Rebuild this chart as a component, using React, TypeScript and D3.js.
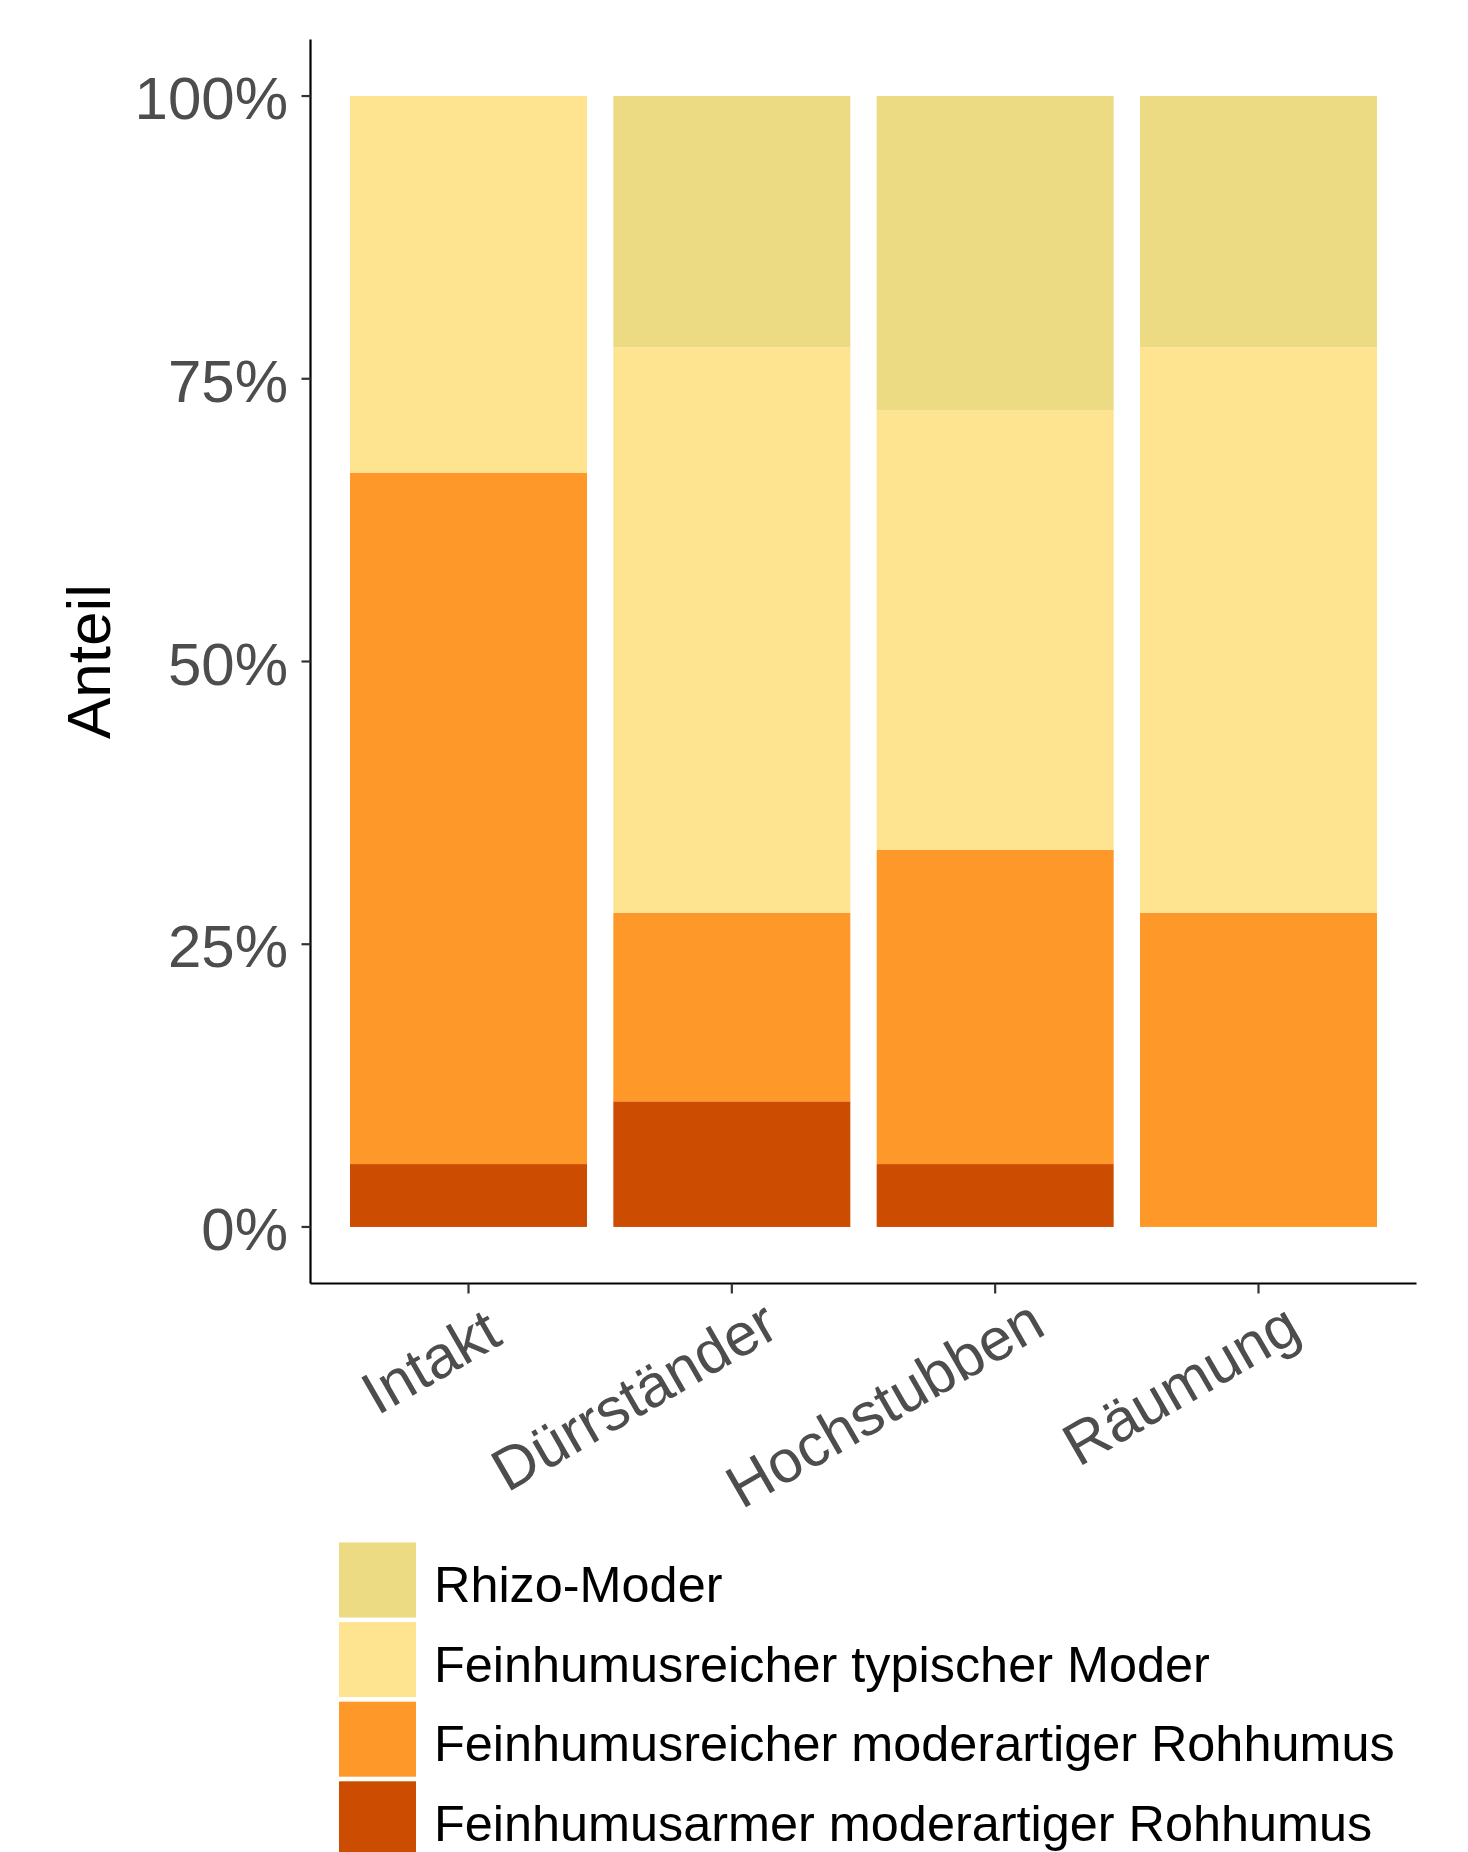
import React, { useEffect, useRef } from "react";
import * as d3 from "d3";

const categories = ["Intakt", "Dürrständer", "Hochstubben", "Räumung"];
const seriesKeys = [
  "Feinhumusarmer moderartiger Rohhumus",
  "Feinhumusreicher moderartiger Rohhumus",
  "Feinhumusreicher typischer Moder",
  "Rhizo-Moder",
];
// shares per category, bottom to top (same order as seriesKeys)
const armerRohhumus = [0.0556, 0.1111, 0.0556, 0.0];
const reicherRohhumus = [0.6111, 0.1667, 0.2778, 0.2778];
const typischerModer = [0.3333, 0.5, 0.3889, 0.5];
const rhizoModer = [0.0, 0.2222, 0.2778, 0.2222];
const seriesColors = ["#CC4C02", "#FE9929", "#FEE391", "#ECDB83"];
const legendOrder = [3, 2, 1, 0];
const yTicks = [0, 0.25, 0.5, 0.75, 1];
const yTickLabels = ["0%", "25%", "50%", "75%", "100%"];
const yTitle = "Anteil";

export default function App() {
  const ref = useRef<SVGSVGElement | null>(null);

  useEffect(() => {
    const svg = d3.select(ref.current);
    svg.selectAll("*").remove();
    const font = "'Liberation Sans', Arial, sans-serif";

    const rows = categories.map((c, i) => ({
      cat: c,
      [seriesKeys[0]]: armerRohhumus[i],
      [seriesKeys[1]]: reicherRohhumus[i],
      [seriesKeys[2]]: typischerModer[i],
      [seriesKeys[3]]: rhizoModer[i],
    }));
    const stacked = d3.stack<any>().keys(seriesKeys)(rows);

    const x = d3
      .scaleBand<string>()
      .domain(categories)
      .range([310.5, 1416.5])
      .paddingInner(0.1)
      .paddingOuter(0.15);
    const y = d3.scaleLinear().domain([-0.05, 1.05]).range([1283.5, 39.5]);
    const color = d3.scaleOrdinal<string, string>().domain(seriesKeys).range(seriesColors);

    // bars
    const g = svg.append("g");
    stacked.forEach((layer) => {
      g.append("g")
        .attr("fill", color(layer.key))
        .selectAll("rect")
        .data(layer)
        .join("rect")
        .attr("x", (d: any) => x(d.data.cat)!)
        .attr("width", x.bandwidth())
        .attr("y", (d: any) => y(d[1]))
        .attr("height", (d: any) => Math.max(0, y(d[0]) - y(d[1])));
    });

    // y axis
    const [xl] = x.range();
    svg
      .append("line")
      .attr("x1", xl)
      .attr("x2", xl)
      .attr("y1", y.range()[1])
      .attr("y2", y.range()[0])
      .attr("stroke", "#000")
      .attr("stroke-width", 2.2);
    yTicks.forEach((t, i) => {
      svg
        .append("line")
        .attr("x1", xl - 9)
        .attr("x2", xl)
        .attr("y1", y(t))
        .attr("y2", y(t))
        .attr("stroke", "#333")
        .attr("stroke-width", 2.2);
      svg
        .append("text")
        .attr("x", 288)
        .attr("y", y(t) + 23)
        .attr("text-anchor", "end")
        .attr("font-family", font)
        .attr("font-size", 60)
        .attr("fill", "#4D4D4D")
        .text(yTickLabels[i]);
    });

    // x axis
    svg
      .append("line")
      .attr("x1", x.range()[0])
      .attr("x2", x.range()[1])
      .attr("y1", y.range()[0])
      .attr("y2", y.range()[0])
      .attr("stroke", "#000")
      .attr("stroke-width", 2.2);
    categories.forEach((c) => {
      const cx = x(c)! + x.bandwidth() / 2;
      svg
        .append("line")
        .attr("x1", cx)
        .attr("x2", cx)
        .attr("y1", y.range()[0])
        .attr("y2", y.range()[0] + 10)
        .attr("stroke", "#333")
        .attr("stroke-width", 2.2);
      const gt = svg
        .append("g")
        .attr("transform", `translate(${cx},1308) rotate(-30)`);
      const t = gt
        .append("text")
        .attr("text-anchor", "end")
        .attr("font-family", font)
        .attr("font-size", 60)
        .attr("fill", "#4D4D4D")
        .text(c);
      const L = (t.node() as SVGTextElement).getComputedTextLength();
      t.attr("x", 0.094 * L).attr("y", 48);
    });

    // y title
    svg
      .append("text")
      .attr("transform", `translate(110,${(y.range()[0] + y.range()[1]) / 2}) rotate(-90)`)
      .attr("text-anchor", "middle")
      .attr("font-family", font)
      .attr("font-size", 62)
      .attr("fill", "#000")
      .text(yTitle);

    // legend
    const lg = svg.append("g");
    legendOrder.forEach((si, i) => {
      const top = 1542.5 + i * 79.6;
      lg.append("rect")
        .attr("x", 339)
        .attr("y", top)
        .attr("width", 77)
        .attr("height", 75)
        .attr("fill", seriesColors[si]);
      lg.append("text")
        .attr("x", 434)
        .attr("y", top + 37.5 + 22)
        .attr("font-family", font)
        .attr("font-size", 50.4)
        .attr("fill", "#000")
        .text(seriesKeys[si]);
    });
  }, []);

  return (
    <svg
      ref={ref}
      width={1468}
      height={1852}
      style={{ position: "absolute", left: 0, top: 0, background: "#fff" }}
    />
  );
}
